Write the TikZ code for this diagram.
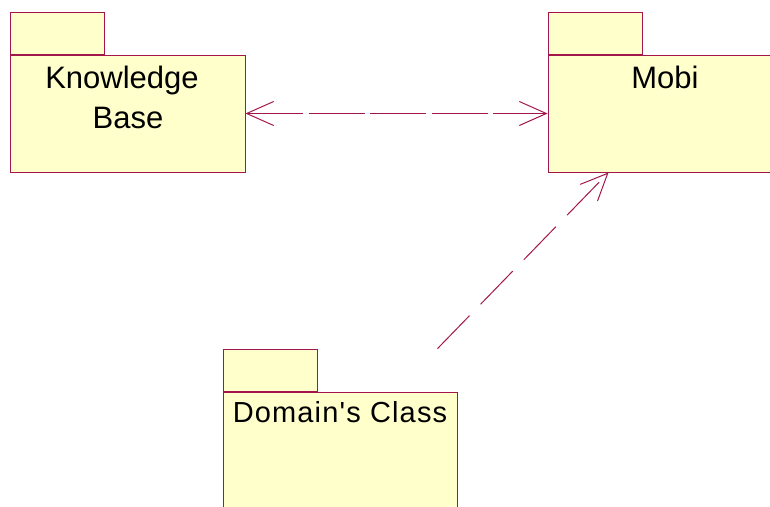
\documentclass[tikz,border=0pt]{standalone}
\usepackage{fontspec}
\setmainfont{Liberation Sans}
\newfontfamily\spacedfont[LetterSpace=4]{Liberation Sans}
\usetikzlibrary{arrows.meta,calc}
\definecolor{pkgfill}{RGB}{255,255,204}
\definecolor{pkgline}{RGB}{163,22,75}
\begin{document}
\begin{tikzpicture}[x=1pt,y=-1pt,
  pkgbody/.style={draw=pkgline, fill=pkgfill, line width=0.9pt, rectangle,
    inner sep=0pt, minimum width=235pt, minimum height=117pt},
  pkgtab/.style={draw=pkgline, fill=pkgfill, line width=0.9pt, rectangle,
    inner sep=0pt, minimum width=94pt, minimum height=42pt, anchor=south west},
  pkglabel/.style={anchor=base, inner sep=0pt, font=\fontsize{31}{37}\selectfont},
  dep/.style={draw=pkgline, line width=1pt,
    arrows={-Straight Barb[length=27pt,width=24pt,line width=1pt]}},
]
\useasboundingbox (0,0) rectangle (770,506);
\clip (0,0) rectangle (770,506);

% packages: body with a tab on its top left corner
\node[pkgbody] (kb) at (127.5,113.5) {};
\node[pkgtab] (kbtab) at (kb.north west) {};
\node[pkgbody] (mobi) at (665.5,113.5) {};
\node[pkgtab] (mobitab) at (mobi.north west) {};
\node[pkgbody, minimum width=234pt] (dc) at (340,450.5) {};
\node[pkgtab] (dctab) at (dc.north west) {};

% package names
\node[pkglabel] (kbname1) at (122,88) {Knowledge};
\node[pkglabel] (kbname2) at (128,128) {Base};
\node[pkglabel] (mobiname) at (665,88) {Mobi};
\node[pkglabel, font=\spacedfont\fontsize{29}{35}\selectfont] (dcname) at (340,422) {Domain's Class};

% dependencies
\draw[dep, arrows={Straight Barb[length=27pt,width=24pt,line width=1pt]-Straight Barb[length=27pt,width=24pt,line width=1pt]},
  dash pattern=on 56pt off 5.5pt] (kb.east) -- (mobi.west);
\draw[dep, dash pattern=on 46pt off 16pt]
  ($(dc.north east |- dctab.north)+(-20,0)$) -- ($(mobi.south west)+(61,0)$);
\end{tikzpicture}
\end{document}
